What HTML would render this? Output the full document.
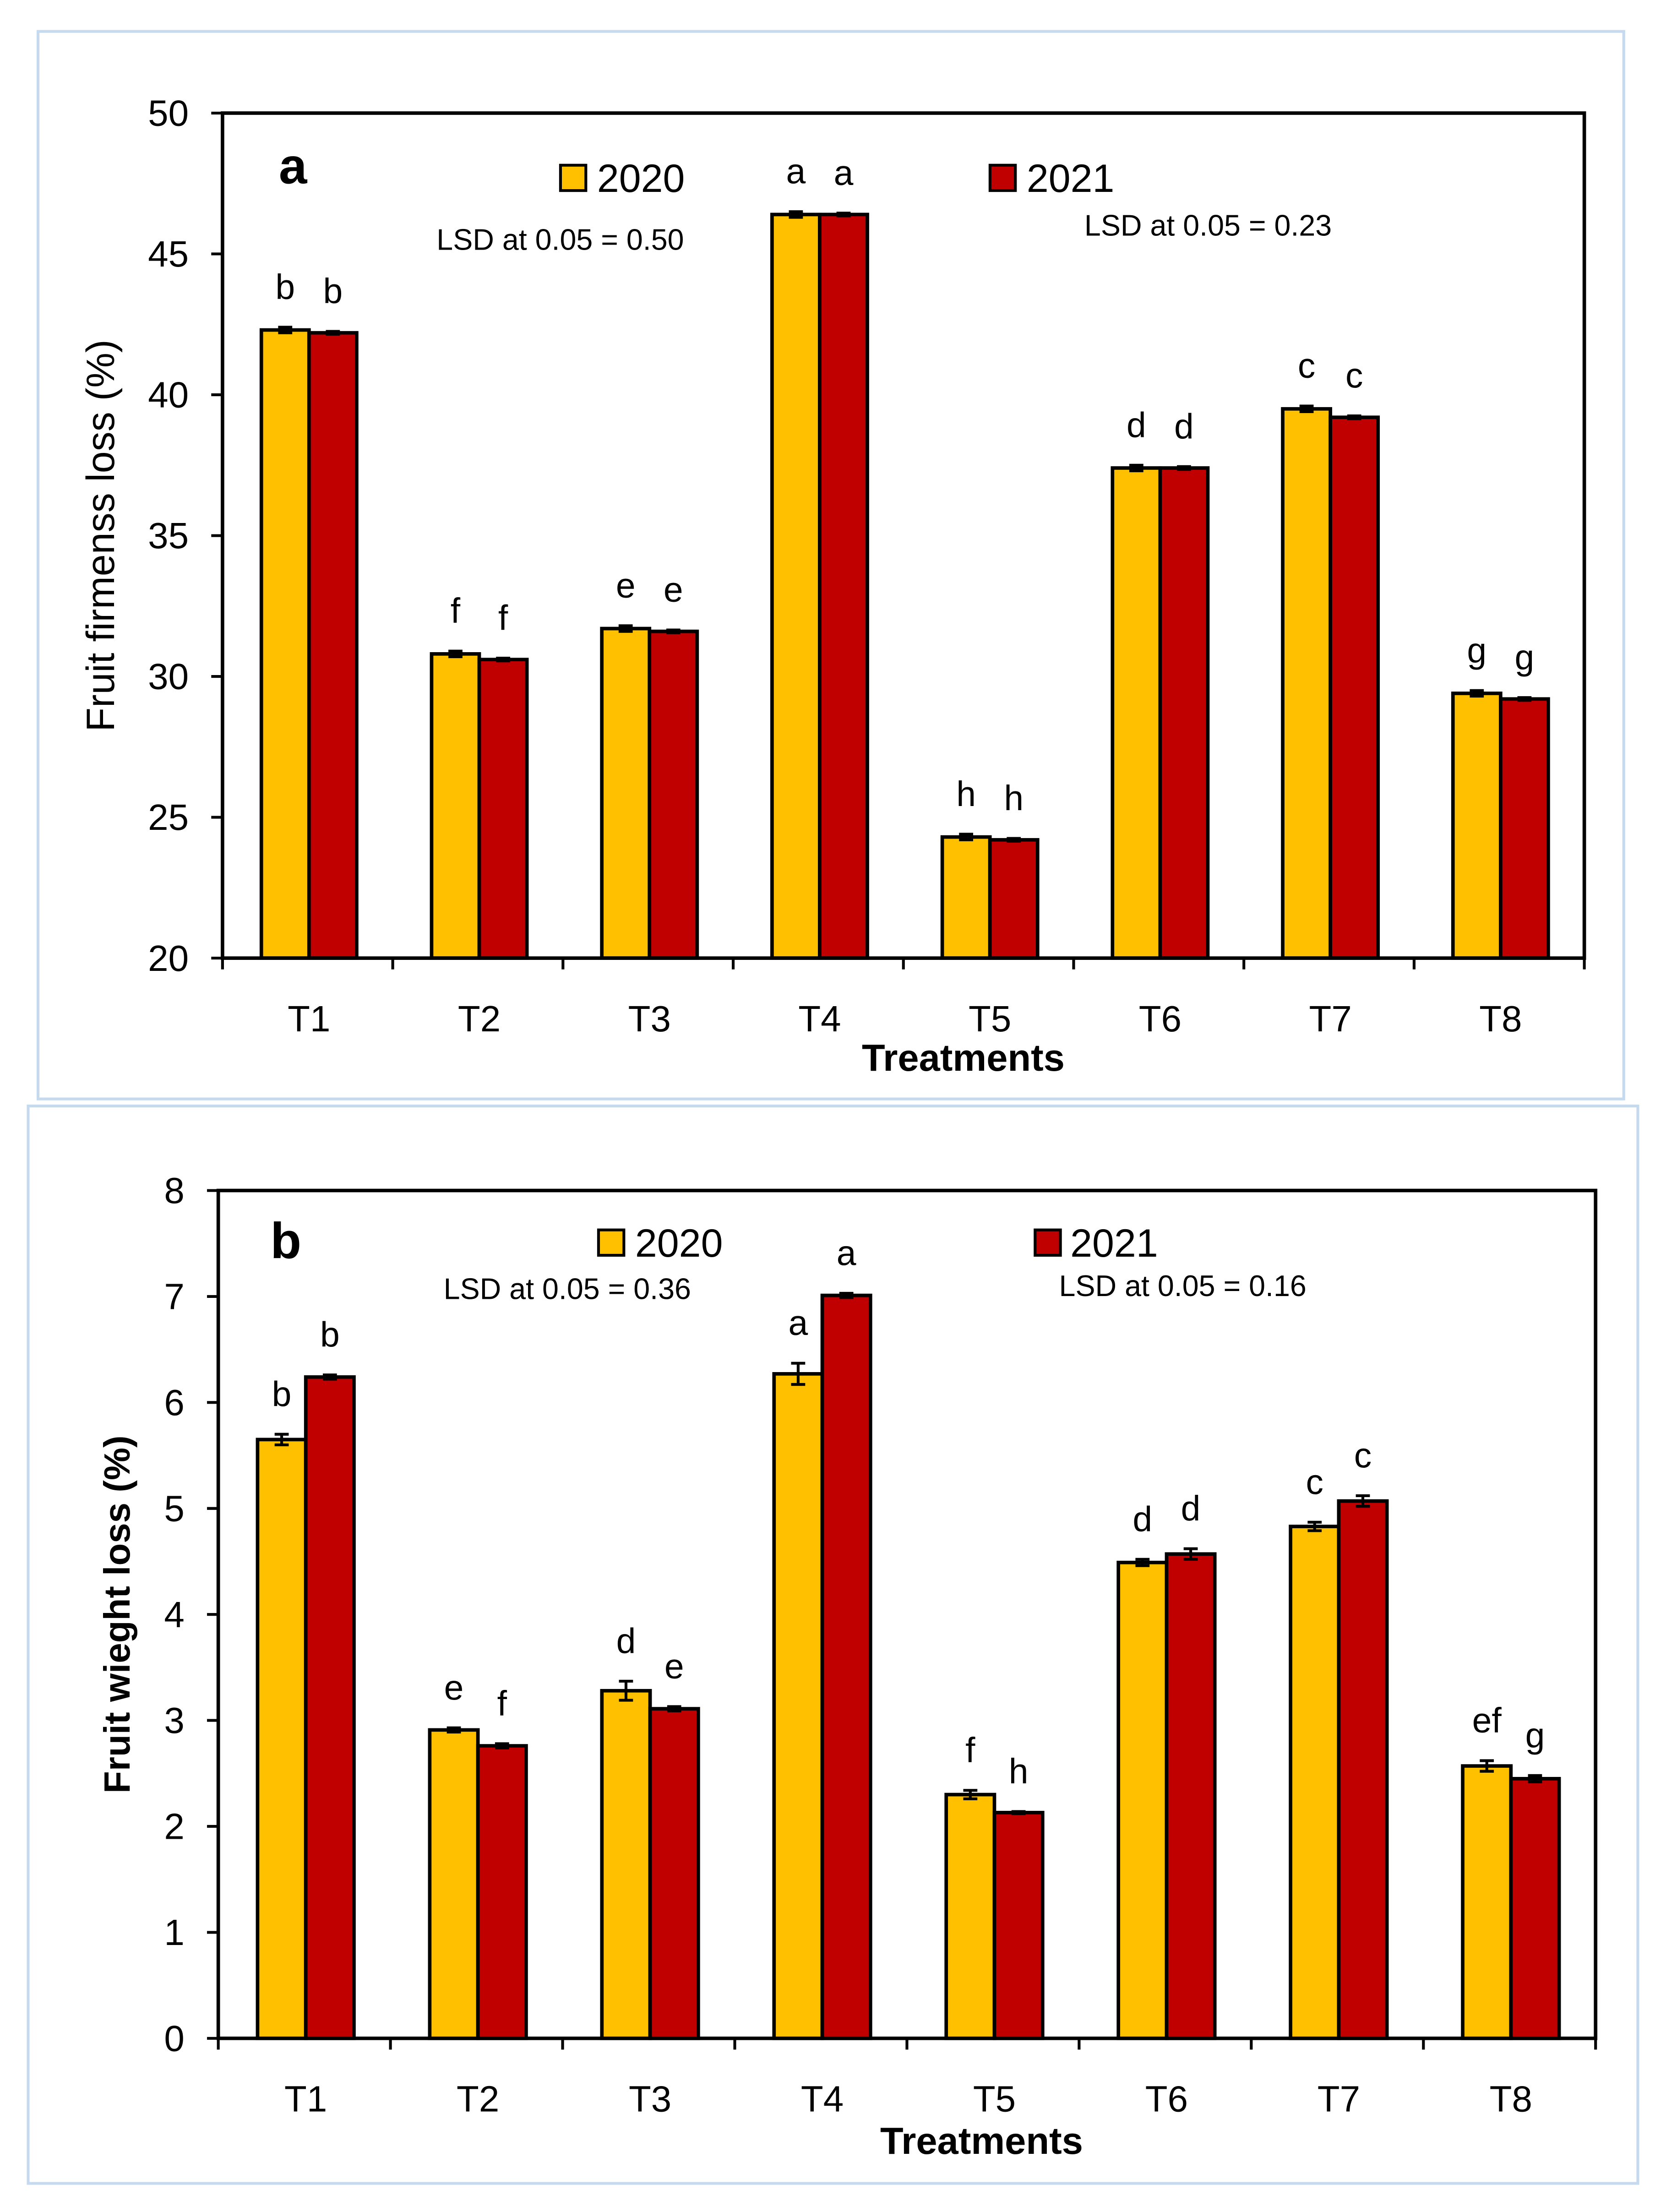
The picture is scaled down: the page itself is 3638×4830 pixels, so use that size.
<!DOCTYPE html>
<html><head><meta charset="utf-8">
<style>
html,body{margin:0;padding:0;background:#fff;}
svg{display:block;}
text{font-family:"Liberation Sans",sans-serif;fill:#000;}
</style></head>
<body>
<svg id="chart" width="3638" height="4830" viewBox="0 0 1183 1570" xmlns="http://www.w3.org/2000/svg">
<rect x="0" y="0" width="1183" height="1570" fill="#fff"/>
<rect x="27" y="22" width="1126" height="758" fill="none" stroke="#c5d9ef" stroke-width="2"/>
<rect x="20" y="785" width="1143" height="765" fill="none" stroke="#c5d9ef" stroke-width="2"/>
<g id="ga"></g>
<g id="gb"></g>
</svg>
<script>
const categories = ["T1","T2","T3","T4","T5","T6","T7","T8"];
const aVals2020 = [42.3,30.8,31.7,46.4,24.3,37.4,39.5,29.4];
const aVals2021 = [42.2,30.6,31.6,46.4,24.2,37.4,39.2,29.2];
const aErr2020 = [0.1,0.1,0.1,0.1,0.1,0.1,0.1,0.1];
const aErr2021 = [0.05,0.05,0.05,0.05,0.05,0.05,0.05,0.05];
const aLet2020 = ["b","f","e","a","h","d","c","g"];
const aLet2021 = ["b","f","e","a","h","d","c","g"];
const aTicks = [20,25,30,35,40,45,50];
const bVals2020 = [5.65,2.91,3.28,6.27,2.30,4.49,4.83,2.57];
const bVals2021 = [6.24,2.76,3.11,7.01,2.13,4.57,5.07,2.45];
const bErr2020 = [0.05,0.02,0.09,0.1,0.04,0.03,0.04,0.05];
const bErr2021 = [0.02,0.02,0.02,0.02,0.01,0.05,0.05,0.03];
const bLet2020 = ["b","e","d","a","f","d","c","ef"];
const bLet2021 = ["b","f","e","a","h","d","c","g"];
const bTicks = [0,1,2,3,4,5,6,7,8];

const NS="http://www.w3.org/2000/svg";
function mk(parent,tag,attrs,txt){const e=document.createElementNS(NS,tag);for(const k in attrs)e.setAttribute(k,attrs[k]);if(txt!==undefined)e.textContent=txt;parent.appendChild(e);return e;}

function panel(g,cfg){
  const {x0,x1,y0,y1,min,max,v1,v2,e1,e2,l1,l2,ticks,letterGap}=cfg;
  const y=v=>y1-(v-min)/(max-min)*(y1-y0);
  const gw=(x1-x0)/categories.length;
  const bw=gw*0.28;
  categories.forEach((c,i)=>{
    const cx=x0+gw*(i+0.5)+1;
    [[v1,e1,l1,"#ffc000",cx-bw,"2020"],[v2,e2,l2,"#c00000",cx,"2021"]].forEach(([vals,errs,lets,col,bx,yr])=>{
      const top=y(vals[i]);
      const r=mk(g,"rect",{x:bx,y:top,width:bw,height:y1-top,fill:col,stroke:"#000","stroke-width":2.5});
      
      
      const et=y(vals[i]+errs[i]), eb=y(vals[i]-errs[i]), ex=bx+bw/2;
      const eg=mk(g,"path",{d:`M${ex},${et}V${eb}M${ex-5},${et}H${ex+5}M${ex-5},${eb}H${ex+5}`,stroke:"#000","stroke-width":2,fill:"none"});
      
      
      const t=mk(g,"text",{x:ex,y:et-letterGap,"text-anchor":"middle","font-size":25},lets[i]);
      
      
    });
    const xl=mk(g,"text",{x:cx,y:y1+52,"text-anchor":"middle","font-size":26},c);
    
    
  });
  for(let i=0;i<=categories.length;i++){
    const tx=x0+gw*i;
    const tk=mk(g,"line",{x1:tx,x2:tx,y1:y1,y2:y1+8,stroke:"#000","stroke-width":2});
    
    
  }
  ticks.forEach(v=>{
    const ty=y(v);
    const tk=mk(g,"line",{x1:x0-8,x2:x0,y1:ty,y2:ty,stroke:"#000","stroke-width":2});
    
    
    const tl=mk(g,"text",{x:x0-24,y:ty+9,"text-anchor":"end","font-size":26},String(v));
    
    
  });
  const pa=mk(g,"rect",{x:x0,y:y0,width:x1-x0,height:y1-y0,fill:"none",stroke:"#000","stroke-width":2.5});
  
  
}

const ga=document.getElementById("ga"), gb=document.getElementById("gb");
panel(ga,{x0:158,x1:1125,y0:80,y1:680,min:20,max:50,v1:aVals2020,v2:aVals2021,e1:aErr2020,e2:aErr2021,l1:aLet2020,l2:aLet2021,ticks:aTicks,letterGap:20});
panel(gb,{x0:155,x1:1133,y0:845,y1:1447,min:0,max:8,v1:bVals2020,v2:bVals2021,e1:bErr2020,e2:bErr2021,l1:bLet2020,l2:bLet2021,ticks:bTicks,letterGap:20});

function txt(g,name,x,y,s,size,extra){const t=mk(g,"text",Object.assign({x:x,y:y,"font-size":size},extra||{}),s);return t;}
function sw(g,name,x,y,col){const r=mk(g,"rect",{x:x,y:y,width:18,height:18,fill:col,stroke:"#000","stroke-width":2});}
txt(ga,"panel-a-label",198,130,"a",36,{"font-weight":"bold"});
sw(ga,"legend-swatch-2020",398,117,"#ffc000");
txt(ga,"legend-label-2020",424,136,"2020",28);
sw(ga,"legend-swatch-2021",703,117,"#c00000");
txt(ga,"legend-label-2021",729,136,"2021",28);
txt(ga,"lsd-2020",310,177,"LSD at 0.05 = 0.50",21);
txt(ga,"lsd-2021",770,167,"LSD at 0.05 = 0.23",21);
txt(ga,"y-axis-title",0,0,"Fruit firmenss loss (%)",28,{transform:"translate(81,380) rotate(-90)","text-anchor":"middle"});
txt(ga,"x-axis-title",684,760,"Treatments",27,{"text-anchor":"middle","font-weight":"bold"});
txt(gb,"panel-b-label",192,893,"b",36,{"font-weight":"bold"});
sw(gb,"legend-swatch-2020",425,873,"#ffc000");
txt(gb,"legend-label-2020",451,892,"2020",28);
sw(gb,"legend-swatch-2021",735,873,"#c00000");
txt(gb,"legend-label-2021",760,892,"2021",28);
txt(gb,"lsd-2020",315,922,"LSD at 0.05 = 0.36",21);
txt(gb,"lsd-2021",752,920,"LSD at 0.05 = 0.16",21);
txt(gb,"y-axis-title",0,0,"Fruit wieght loss (%)",26,{transform:"translate(92,1146) rotate(-90)","text-anchor":"middle","font-weight":"bold"});
txt(gb,"x-axis-title",697,1529,"Treatments",27,{"text-anchor":"middle","font-weight":"bold"});
</script>
</body></html>
